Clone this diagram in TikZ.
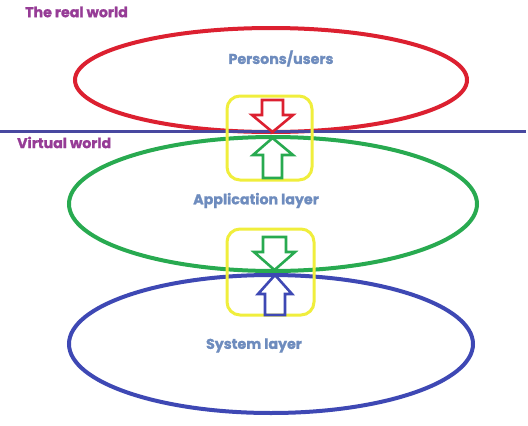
\documentclass[tikz,border=0pt]{standalone}
\usepackage{fontspec}
\setmainfont{Poppins}
\newfontfamily\heavy{Poppins}[BoldFeatures={FakeBold=1.2}]
\usetikzlibrary{shapes.geometric}
\definecolor{cred}{RGB}{220,32,48}
\definecolor{cgreen}{RGB}{40,170,80}
\definecolor{cblue}{RGB}{62,72,180}
\definecolor{cline}{RGB}{72,72,160}
\definecolor{cyel}{RGB}{240,238,60}
\definecolor{ctext}{RGB}{110,140,190}
\definecolor{cpurp}{RGB}{150,60,150}
\tikzset{
  ring/.style={line width=4pt},
  ybox/.style={draw=cyel, line width=3pt, rounded corners=13pt},
  barrow/.style={line width=2.6pt, line join=miter},
  lbl/.style={text=ctext, font=\heavy\bfseries\fontsize{14.2}{16}\selectfont, inner sep=0pt},
  wlbl/.style={text=cpurp, font=\heavy\bfseries\fontsize{14.2}{16}\selectfont, inner sep=0pt}
}
\begin{document}
\begin{tikzpicture}[x=1pt,y=-1pt]
\useasboundingbox (0,0) rectangle (528,426);
\fill[white] (0,0) rectangle (528,426);
% ellipses
\draw[ring, draw=cred] (271,80) ellipse [x radius=196, y radius=52];
\draw[ring, draw=cgreen] (273,204) ellipse [x radius=204, y radius=67];
\draw[ring, draw=cblue] (271,344) ellipse [x radius=202, y radius=69];
% separator line
\coordinate (lineL) at (0,131.5);
\coordinate (lineR) at (526,131.5);
\draw[line width=3pt, cline] (lineL) -- (lineR);
% yellow boxes
\draw[ybox] (227,96) rectangle (312,180);
\draw[ybox] (227,229) rectangle (314,315);
% red down arrow
\draw[barrow, cred] (262,100) -- (283,100) -- (283,115) -- (293,115) -- (272.5,132) -- (252,115) -- (262,115) -- cycle;
% green up arrow (box 1)
\draw[barrow, cgreen] (263,178) -- (282,178) -- (282,155) -- (293,155) -- (272.5,138) -- (253,155) -- (263,155) -- cycle;
% green down arrow (box 2)
\draw[barrow, cgreen] (263,237) -- (286,237) -- (286,252) -- (295,252) -- (274.5,270) -- (254,252) -- (263,252) -- cycle;
% blue up arrow (box 2)
\draw[barrow, cblue] (265,315) -- (285,315) -- (285,294) -- (292,294) -- (275,275) -- (258,294) -- (265,294) -- cycle;
% labels
\node[wlbl, anchor=west] (real) at (25,12) {The real world};
\node[wlbl, anchor=west] (virt) at (17,142.5) {Virtual world};
\node[lbl] (pers) at (281,58.5) {Persons/users};
\node[lbl] (app) at (256,200.5) {Application layer};
\node[lbl] (sys) at (254,345.5) {System layer};
\end{tikzpicture}
\end{document}
